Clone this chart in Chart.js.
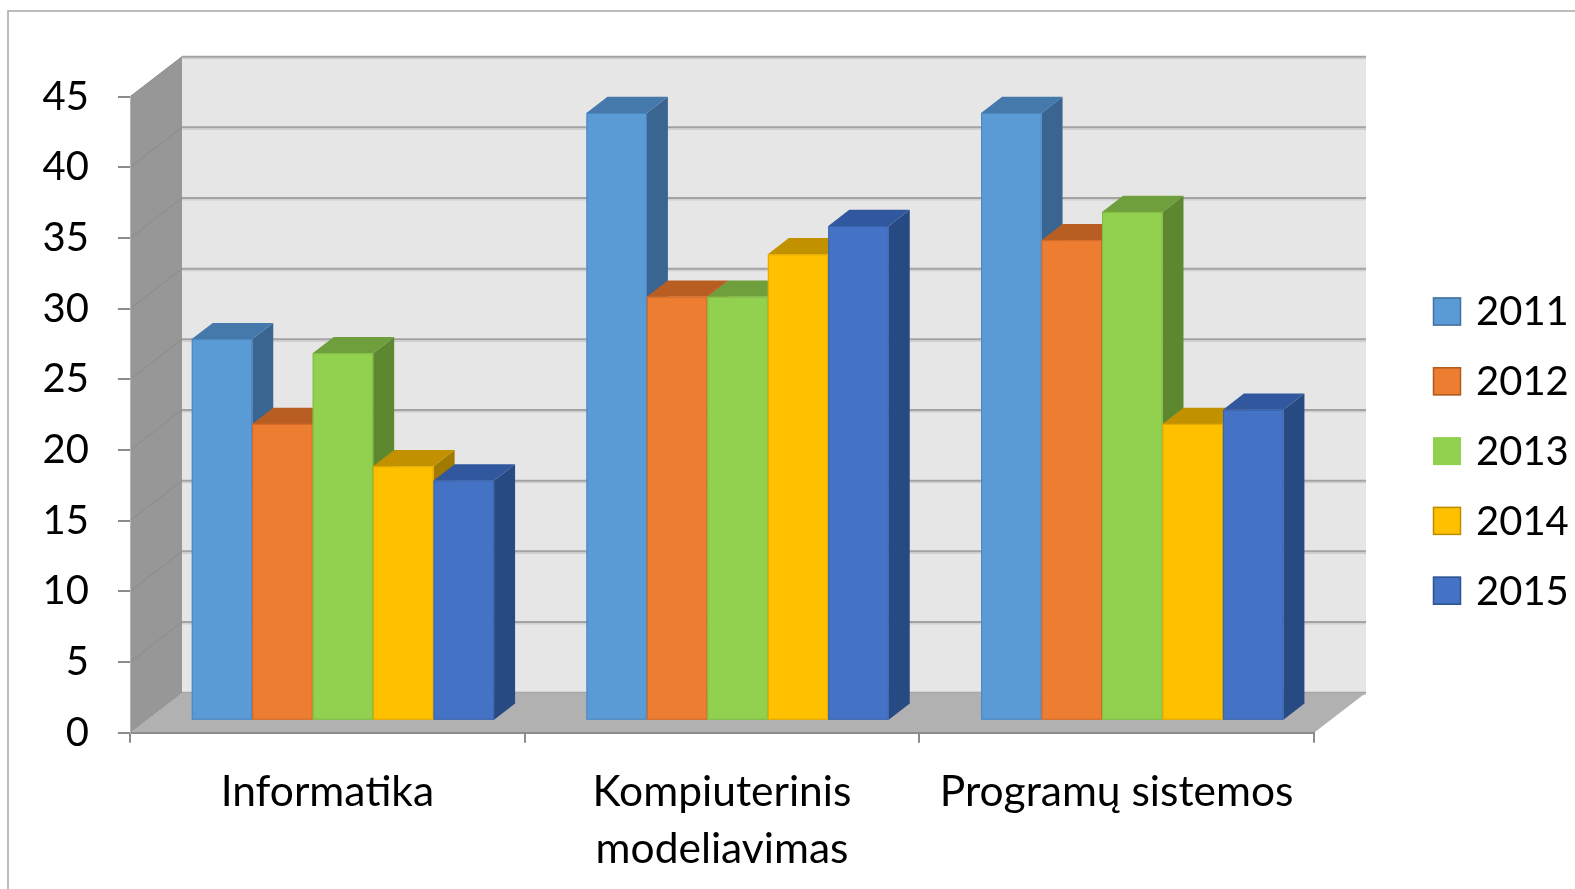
<!DOCTYPE html>
<html><head><meta charset="utf-8">
<script src="https://cdn.jsdelivr.net/npm/chart.js@4.4.1/dist/chart.umd.min.js"></script>
<style>html,body{margin:0;padding:0;background:#fff;}#wrap{width:1575px;height:889px;position:relative;}</style>
</head><body><div id="wrap"><canvas id="c" width="1575" height="889"></canvas></div>
<script>
// ---- data ----
const categories = ['Informatika', ['Kompiuterinis', 'modeliavimas'], 'Programų sistemos'];
const seriesNames = ['2011', '2012', '2013', '2014', '2015'];
const values2011 = [27, 43, 43];
const values2012 = [21, 30, 34];
const values2013 = [26, 30, 36];
const values2014 = [18, 33, 21];
const values2015 = [17, 35, 22];
const yTickValues = [0, 5, 10, 15, 20, 25, 30, 35, 40, 45];

// ---- styles ----
const frontColors = ['#5b9bd5', '#ed7d31', '#92d050', '#ffc000', '#4472c4'];
const topColors = ['#4679ab', '#b95e22', '#6f9f3c', '#c29100', '#31589e'];
const sideColors = ['#3a6591', '#9d4f1b', '#5e8830', '#a37a00', '#284a83'];
const edgeColors = ['#4a86bf', '#d26a26', '#80bb44', '#e0a800', '#3a64ae'];
const legendBorders = ['#41719c', '#ae5a21', null, '#bc8c00', '#2f528f'];

const FONT = 'Lato, "Open Sans", sans-serif';
const DX = 52, DY = -40;          // wall depth
const OX = 0.3 * DX, OY = 0.3 * DY; // bar front plane offset
const BDX = 21, BDY = -16.2;      // bar depth

const seriesValues = [values2011, values2012, values2013, values2014, values2015];

function poly(ctx, pts, fill) {
  ctx.beginPath();
  ctx.moveTo(pts[0][0], pts[0][1]);
  for (let i = 1; i < pts.length; i++) ctx.lineTo(pts[i][0], pts[i][1]);
  ctx.closePath();
  ctx.fillStyle = fill;
  ctx.fill();
}

const threeD = {
  id: 'threeD',
  beforeDraw(chart) {
    const { ctx, chartArea: a, scales: { y } } = chart;
    const L = a.left, R = a.right, T = a.top, B = a.bottom;
    ctx.save();
    // outer frame
    ctx.strokeStyle = '#a6a6a6';
    ctx.lineWidth = 1.5;
    ctx.beginPath();
    ctx.moveTo(8, 889); ctx.lineTo(8, 11); ctx.lineTo(1575, 11);
    ctx.stroke();
    // back wall
    ctx.fillStyle = '#e6e6e6';
    ctx.fillRect(L + DX, T + DY, R - L, B - T);
    // back wall gridlines
    y.ticks.forEach(t => {
      const py = y.getPixelForValue(t.value) + DY;
      ctx.strokeStyle = '#d0d0d0'; ctx.lineWidth = 1.5;
      ctx.beginPath(); ctx.moveTo(L + DX, py + 1.8); ctx.lineTo(R + DX, py + 1.8); ctx.stroke();
      ctx.strokeStyle = '#a3a3a3'; ctx.lineWidth = 2;
      ctx.beginPath(); ctx.moveTo(L + DX, py); ctx.lineTo(R + DX, py); ctx.stroke();
    });
    // side wall
    poly(ctx, [[L, T], [L + DX, T + DY], [L + DX, B + DY], [L, B]], '#979797');
    y.ticks.forEach(t => {
      const py = y.getPixelForValue(t.value);
      ctx.strokeStyle = '#8a8a8a'; ctx.lineWidth = 1;
      ctx.beginPath(); ctx.moveTo(L, py); ctx.lineTo(L + DX, py + DY); ctx.stroke();
    });
    // floor
    poly(ctx, [[L, B], [R, B], [R + DX, B + DY], [L + DX, B + DY]], '#b1b1b1');
    ctx.restore();
  },
  beforeDatasetsDraw(chart) {
    const ctx = chart.ctx;
    ctx.save();
    chart.data.datasets.forEach((ds, i) => {
      const meta = chart.getDatasetMeta(i);
      meta.data.forEach(el => {
        const p = el.getProps(['x', 'y', 'base', 'width'], true);
        const fx = p.x - p.width / 2 + OX, fw = p.width;
        const fy = p.y + OY, fb = p.base + OY;
        poly(ctx, [[fx + fw, fy], [fx + fw + BDX, fy + BDY], [fx + fw + BDX, fb + BDY], [fx + fw, fb]], sideColors[i]);
        poly(ctx, [[fx, fy], [fx + fw, fy], [fx + fw + BDX, fy + BDY], [fx + BDX, fy + BDY]], topColors[i]);
        ctx.fillStyle = frontColors[i];
        ctx.fillRect(fx, fy, fw, fb - fy);
        ctx.strokeStyle = edgeColors[i];
        ctx.lineWidth = 1;
        ctx.strokeRect(fx + 0.5, fy + 0.5, fw - 1, fb - fy - 1);
      });
    });
    ctx.restore();
    return false;
  },
  afterDraw(chart) {
    const ctx = chart.ctx;
    ctx.save();
    ctx.font = '40px ' + FONT;
    ctx.textBaseline = 'middle';
    ctx.textAlign = 'left';
    chart.data.datasets.forEach((ds, i) => {
      const cy = 311.5 + i * 69.8;
      ctx.fillStyle = frontColors[i];
      ctx.fillRect(1433, cy - 14, 28, 28);
      if (legendBorders[i]) {
        ctx.strokeStyle = legendBorders[i]; ctx.lineWidth = 1.5;
        ctx.strokeRect(1433.5, cy - 13.5, 27, 27);
      }
      ctx.fillStyle = '#000';
      ctx.fillText(ds.label, 1476, cy + 1);
    });
    ctx.restore();
  }
};

const chart = new Chart(document.getElementById('c'), {
  type: 'bar',
  data: {
    labels: categories,
    datasets: seriesNames.map((n, i) => ({
      label: n,
      data: seriesValues[i],
      backgroundColor: frontColors[i],
      categoryPercentage: 0.766,
      barPercentage: 1
    }))
  },
  options: {
    responsive: false,
    animation: false,
    devicePixelRatio: 1,
    layout: { padding: { top: 96.7, right: 261, bottom: 0, left: 0 } },
    plugins: { legend: { display: false }, tooltip: { enabled: false } },
    scales: {
      x: {
        grid: { display: true, drawOnChartArea: false, offset: true, color: '#8c8c8c', lineWidth: 2, tickLength: 10 },
        border: { display: true, color: '#8c8c8c', width: 2 },
        ticks: { color: '#000', font: { family: FONT, size: 42.5, lineHeight: 1.32 }, padding: 22, maxRotation: 0, autoSkip: false },
        afterFit(s) { s.height = 889 - 732.7; }
      },
      y: {
        min: 0, max: 45,
        afterBuildTicks(s) { s.ticks = yTickValues.map(v => ({ value: v })); },
        grid: { display: true, drawOnChartArea: false, color: '#8c8c8c', lineWidth: 2, tickLength: 12 },
        border: { display: true, color: '#b5b5b5', width: 1 },
        ticks: { color: '#000', font: { family: FONT, size: 40 }, padding: 29 },
        afterFit(s) { s.width = 130; }
      }
    }
  },
  plugins: [threeD]
});
</script>
</body></html>
